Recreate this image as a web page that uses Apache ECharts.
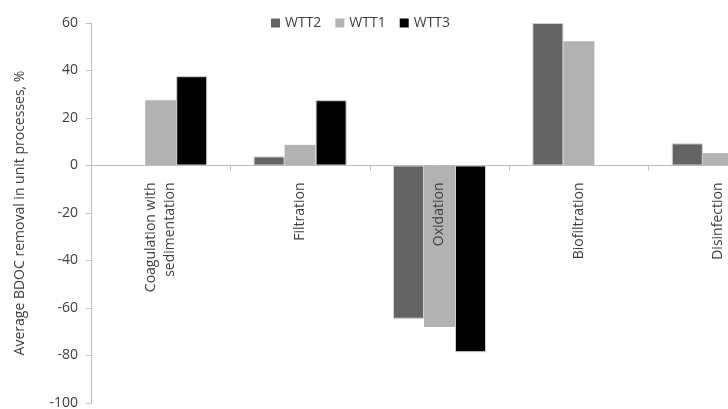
<!DOCTYPE html>
<html>
<head>
<meta charset="utf-8">
<script src="https://cdn.jsdelivr.net/npm/echarts@6/dist/echarts.min.js"></script>
<style>html,body{margin:0;padding:0;background:#fff;overflow:hidden;width:728px;height:409px}#c{width:800px;height:409px}</style>
</head>
<body>
<div id="c"></div>
<script>
const categories = ['Coagulation with\nsedimentation', 'Filtration', 'Oxidation', 'Biofiltration', 'Disinfection'];
const seriesNames = ['WTT2', 'WTT1', 'WTT3'];
const wtt2 = [null, 3.8, -64.5, 60, 9.3];
const wtt1 = [27.5, 8.7, -68, 52.3, 5.2];
const wtt3 = [37.6, 27.5, -78.6, null, null];
const colors = ['#636363', '#b2b2b2', '#000000'];
const yTicks = { min: -100, max: 60, interval: 20 };

const chart = echarts.init(document.getElementById('c'));
const font = '"Open Sans", "Liberation Sans", sans-serif';
const seriesData = [wtt2, wtt1, wtt3];
const gridTop = 23, gridH = 380;
const zeroOffset = gridH * (0 - yTicks.min) / (yTicks.max - yTicks.min);
chart.setOption({
  animation: false,
  textStyle: { fontFamily: font },
  legend: {
    top: 11, left: 266,
    itemWidth: 9, itemHeight: 9, itemGap: 14,
    icon: 'rect',
    itemStyle: { borderWidth: 0 },
    textStyle: { fontSize: 14, color: '#404040', fontFamily: font },
    data: seriesNames
  },
  grid: { left: 91, top: gridTop, width: 697, height: gridH, containLabel: false, outerBoundsMode: 'none' },
  xAxis: {
    type: 'category',
    data: categories,
    position: 'bottom',
    offset: -zeroOffset,
    z: 10,
    axisLine: { onZero: false, lineStyle: { color: '#bfbfbf', width: 1 } },
    axisTick: { show: true, alignWithLabel: false, length: 5, lineStyle: { color: '#bfbfbf' } },
    axisLabel: { rotate: 90, margin: 17, fontSize: 14, color: '#404040', fontFamily: font, interval: 0, lineHeight: 19 }
  },
  yAxis: {
    type: 'value',
    min: yTicks.min, max: yTicks.max, interval: yTicks.interval,
    name: 'Average BDOC removal in unit processes, %',
    nameLocation: 'middle', nameGap: 64,
    nameTextStyle: { fontSize: 14, color: '#404040', fontFamily: font },
    axisLine: { show: true, lineStyle: { color: '#bfbfbf' } },
    axisTick: { show: true, length: 5, lineStyle: { color: '#bfbfbf' } },
    axisLabel: { fontSize: 14, color: '#404040', margin: 13, fontFamily: font },
    splitLine: { show: false }
  },
  series: seriesNames.map((n, i) => ({
    name: n, type: 'bar', data: seriesData[i],
    barWidth: 31, barGap: '0%', z: 2,
    itemStyle: { color: colors[i], borderColor: '#cfcfcf', borderWidth: i === 1 ? 0 : 1 }
  }))
});
</script>
</body>
</html>
